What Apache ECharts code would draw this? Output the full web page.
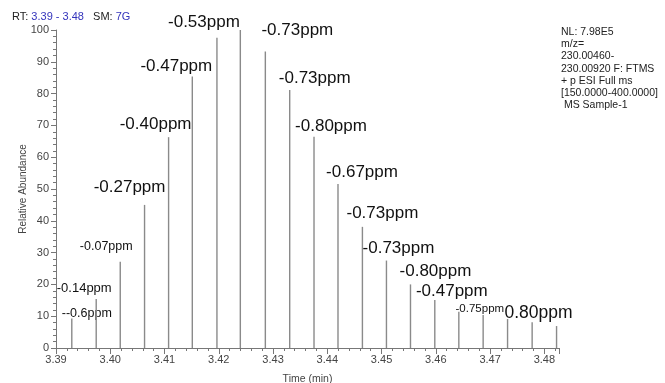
<!DOCTYPE html>
<html>
<head>
<meta charset="utf-8">
<script src="https://cdn.jsdelivr.net/npm/echarts@6/dist/echarts.min.js"></script>
<style>html,body{margin:0;padding:0;background:#fff}#c{width:665px;height:383px}</style>
</head>
<body>
<div id="c"></div>
<script>
// ---- data ----
var times = [3.39291, 3.39741, 3.40184, 3.40632, 3.41075, 3.41512, 3.41966, 3.42397, 3.42858, 3.43307,
             3.43755, 3.44197, 3.44647, 3.45090, 3.45533, 3.45981, 3.46424, 3.46872, 3.47322, 3.47775, 3.48225];
var abundance = [9.3, 15.4, 27.1, 45.0, 66.3, 85.4, 97.6, 100, 93.2, 81.1,
                 66.4, 51.6, 38.1, 27.5, 20.0, 15.1, 11.4, 10.4, 9.1, 8.1, 6.9];
var peakLabels = ['--0.6ppm', '-0.14ppm', '-0.07ppm', '-0.27ppm', '-0.40ppm', '-0.47ppm', '-0.53ppm', '',
                  '-0.73ppm', '-0.73ppm', '-0.80ppm', '-0.67ppm', '-0.73ppm', '-0.73ppm', '-0.80ppm',
                  '-0.47ppm', '-0.75ppm', '', '0.80ppm', '', ''];
var xTickLabels = ['3.39','3.40','3.41','3.42','3.43','3.44','3.45','3.46','3.47','3.48'];
var infoLines = ['NL: 7.98E5', 'm/z=', '230.00460-', '230.00920 F: FTMS', '+ p ESI Full ms', '[150.0000-400.0000]', ' MS Sample-1'];

// ---- layout (label offsets from peak top in px, font sizes) ----
var labelLayout = [[15,-5,12.5],[-12,-11,13],[-14,-15,12.5],[-15,-18,17],[-13,-13,17],[-16,-10,17],[-13,-15,17],null,
                   [32,-21,17],[25,-12,17],[17,-11,17],[24,-12,17],[20,-14,17],[12,-12,17],[25,-13,17],
                   [17,-9,17],[21,-3,11.5],null,[31,-6,17.5],null,null];

var chart = echarts.init(document.getElementById('c'), null, {renderer:'canvas'});
var data = times.map(function(t,i){ return [t, abundance[i], i]; });
var FONT = 'Liberation Sans, Arial, sans-serif';

chart.setOption({
  animation:false,
  textStyle:{fontFamily:FONT},
  grid:{left:56, right:106, top:30, bottom:35, containLabel:false, outerBoundsMode:'none'},
  xAxis:{
    type:'value', min:3.39, max:3.4827, interval:0.01,
    axisLine:{show:true, lineStyle:{color:'#777', width:1}},
    axisTick:{show:true, length:6, lineStyle:{color:'#777'}},
    minorTick:{show:true, splitNumber:5, length:3, lineStyle:{color:'#777'}},
    splitLine:{show:false},
    axisLabel:{fontSize:11, color:'#444', margin:6, showMaxLabel:false,
      formatter:function(v){ var s=v.toFixed(2); return xTickLabels.indexOf(s)>=0 ? s : ''; }},
    name:'Time (min)', nameLocation:'middle', nameGap:26, nameMoveOverlap:false,
    nameTextStyle:{fontSize:10.5, color:'#444'}
  },
  yAxis:{
    type:'value', min:0, max:100, interval:10,
    axisLine:{show:true, lineStyle:{color:'#777', width:1}},
    axisTick:{show:true, length:5, lineStyle:{color:'#777'}},
    minorTick:{show:true, splitNumber:5, length:3, lineStyle:{color:'#777'}},
    splitLine:{show:false},
    axisLabel:{fontSize:11, color:'#444', margin:7},
    name:'Relative Abundance', nameLocation:'middle', nameGap:28, nameMoveOverlap:false,
    nameTextStyle:{fontSize:10, color:'#444'}
  },
  graphic:[
    {type:'text', left:12, top:11, style:{
      text:'{k|RT:} {b|3.39 - 3.48}   {k|SM:} {b|7G}',
      rich:{k:{fill:'#222', fontSize:11, fontFamily:FONT}, b:{fill:'#3333bb', fontSize:11, fontFamily:FONT}},
      fontFamily:FONT, fontSize:11}},
    {type:'text', left:561, top:26, style:{
      text:infoLines.join('\n'), fill:'#222', fontSize:10.5, lineHeight:12.2, fontFamily:FONT}}
  ],
  series:[{
    type:'custom',
    clip:false,
    data:data,
    encode:{x:0, y:1},
    renderItem:function(params, api){
      var t = api.value(0), v = api.value(1), i = api.value(2);
      var top = api.coord([t, v]);
      var base = api.coord([t, 0]);
      var children = [{
        type:'line',
        shape:{x1:base[0], y1:base[1], x2:top[0], y2:top[1]},
        style:{stroke:'#8a8a8a', lineWidth:1.4}
      }];
      var lay = labelLayout[i];
      if (lay && peakLabels[i]) {
        children.push({
          type:'text',
          x: top[0] + lay[0], y: top[1] + lay[1],
          style:{text:peakLabels[i], fill:'#111', fontSize:lay[2], fontFamily:FONT,
                 align:'center', verticalAlign:'middle'}
        });
      }
      return {type:'group', children:children};
    }
  }]
});
</script>
</body>
</html>
